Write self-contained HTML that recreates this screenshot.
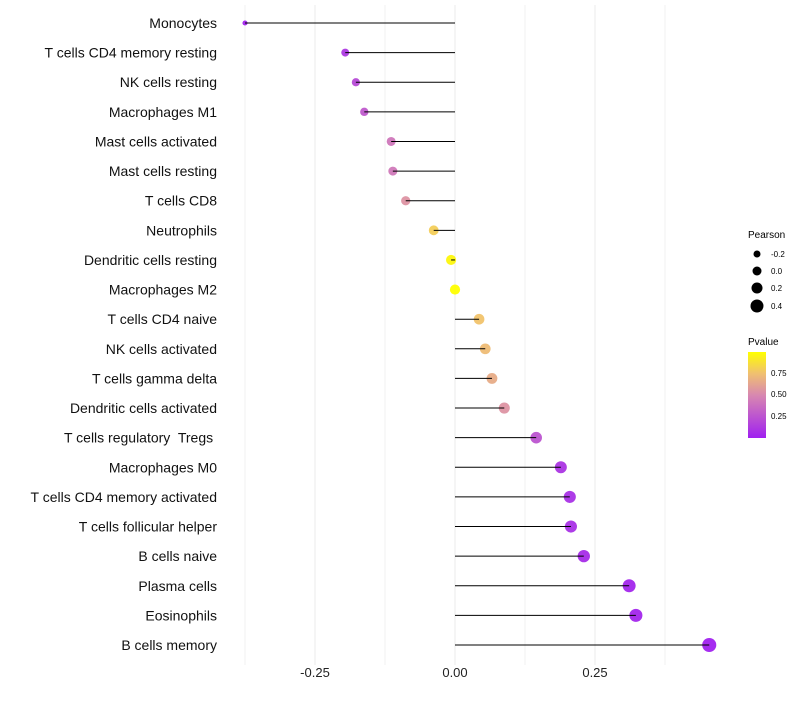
<!DOCTYPE html>
<html><head><meta charset="utf-8"><style>
body{margin:0;background:#fff;}
svg{font-family:"Liberation Sans",sans-serif;}
#ylab text{white-space:pre;}
</style></head><body>
<svg id="chart" width="800" height="700">
<defs><linearGradient id="pg" x1="0" y1="1" x2="0" y2="0">
<stop offset="0" stop-color="#a020f0"/><stop offset="0.5" stop-color="#d888b0"/><stop offset="0.75" stop-color="#f0c070"/><stop offset="1" stop-color="#ffff00"/></linearGradient></defs>
<g id="grid"></g><g id="dots"></g><g id="marks"></g><g id="ylab"></g><g id="xlab"></g>
<g>
<text x="748" y="238" font-size="10">Pearson</text>
<circle cx="757" cy="254" r="3.5" fill="#000"/><text x="771" y="257" font-size="8">-0.2</text>
<circle cx="757" cy="271" r="4.5" fill="#000"/><text x="771" y="274" font-size="8">0.0</text>
<circle cx="757" cy="288" r="5.5" fill="#000"/><text x="771" y="291" font-size="8">0.2</text>
<circle cx="757" cy="306" r="6.5" fill="#000"/><text x="771" y="309" font-size="8">0.4</text>
</g>
<g>
<text x="748" y="345" font-size="10">Pvalue</text>
<rect x="748" y="352" width="18" height="86" fill="url(#pg)"/>
<text x="771" y="376" font-size="8">0.75</text>
<text x="771" y="397" font-size="8">0.50</text>
<text x="771" y="419" font-size="8">0.25</text>
</g>
</svg>
<script>
const categories=["Monocytes","T cells CD4 memory resting","NK cells resting","Macrophages M1","Mast cells activated","Mast cells resting","T cells CD8","Neutrophils","Dendritic cells resting","Macrophages M2","T cells CD4 naive","NK cells activated","T cells gamma delta","Dendritic cells activated","T cells regulatory  Tregs ","Macrophages M0","T cells CD4 memory activated","T cells follicular helper","B cells naive","Plasma cells","Eosinophils","B cells memory"];
const pearson=[-0.375,-0.196,-0.177,-0.162,-0.114,-0.111,-0.088,-0.038,-0.007,0.0,0.043,0.054,0.066,0.088,0.145,0.189,0.205,0.207,0.230,0.311,0.323,0.454];
const pvalues=[0.02,0.12,0.2,0.28,0.42,0.43,0.55,0.8,0.97,1.0,0.76,0.73,0.66,0.55,0.25,0.1,0.08,0.08,0.06,0.03,0.03,0.01];
const xticks=[-0.25,0,0.25];
const xtickLabels=["-0.25","0.00","0.25"];
const minorTicks=[-0.375,-0.125,0.125,0.375];
const ns="http://www.w3.org/2000/svg";
const X=v=>455+v*560;
const Y=i=>23+i*(622/(categories.length-1));
const R=v=>Math.max(1.5,Math.sqrt(Math.max(0,26+52*v)));
const stops=[[0,[160,32,240]],[0.5,[216,136,176]],[0.75,[240,192,112]],[1,[255,255,0]]];
function col(p){for(let k=1;k<stops.length;k++){if(p<=stops[k][0]){const a=stops[k-1],b=stops[k],t=(p-a[0])/(b[0]-a[0]);return "rgb("+a[1].map((c,j)=>Math.round(c+(b[1][j]-c)*t)).join(",")+")";}}return "rgb(255,255,0)";}
function mk(t,at,parent){const e=document.createElementNS(ns,t);for(const k in at)e.setAttribute(k,at[k]);parent.appendChild(e);return e;}
const grid=document.getElementById('grid'),marks=document.getElementById('marks'),dots=document.getElementById('dots'),ylab=document.getElementById('ylab'),xlab=document.getElementById('xlab');
minorTicks.forEach(v=>{const l=mk('line',{x1:X(v),x2:X(v),y1:5,y2:665,stroke:'#f2f2f2','stroke-width':1},grid);

});
xticks.forEach((v,i)=>{const l=mk('line',{x1:X(v),x2:X(v),y1:5,y2:665,stroke:'#ebebeb','stroke-width':1},grid);


const t=mk('text',{x:X(v),y:677,'font-size':13,'text-anchor':'middle',fill:'#222'},xlab);t.textContent=xtickLabels[i];

});
categories.forEach((c,i)=>{const y=Y(i);
const d=mk('circle',{cx:X(pearson[i]),cy:y,r:R(pearson[i]),fill:col(pvalues[i]),'fill-opacity':0.95},dots);


const l=mk('line',{x1:X(0),x2:X(pearson[i]),y1:y,y2:y,stroke:'#000','stroke-width':1},marks);


const t=mk('text',{x:217,y:y+5,'font-size':14,'text-anchor':'end',fill:'#111'},ylab);t.textContent=c;

});
</script>
</body></html>
